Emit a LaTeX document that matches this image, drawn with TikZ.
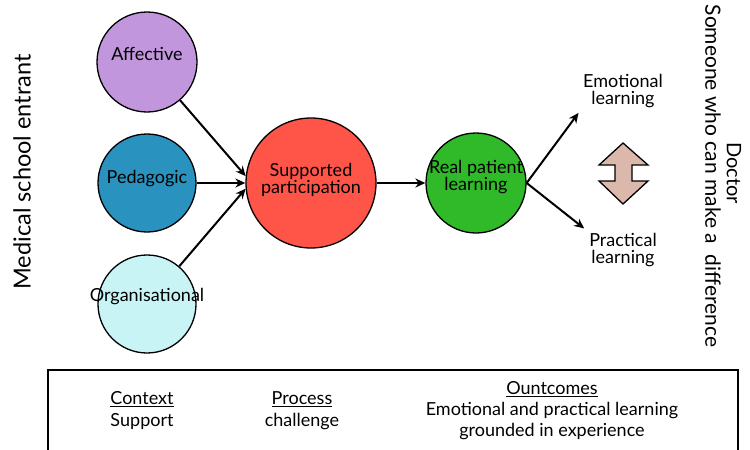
\documentclass[tikz,border=0pt]{standalone}
\usepackage{fontspec}
\setmainfont{Lato}
\usetikzlibrary{arrows.meta}

\definecolor{affcol}{RGB}{194,150,220}
\definecolor{pedcol}{RGB}{42,146,190}
\definecolor{orgcol}{RGB}{200,244,246}
\definecolor{supcol}{RGB}{255,85,72}
\definecolor{realcol}{RGB}{48,185,40}
\definecolor{dblcol}{RGB}{220,184,172}

\begin{document}
\begin{tikzpicture}[x=1pt,y=-1pt,
    every node/.style={font=\fontsize{18}{17}\selectfont},
    circ/.style={circle,draw,line width=1.3pt,inner sep=0pt,minimum size=100pt},
    txt/.style={align=center,yshift=4pt},
    flow/.style={line width=2pt,-{Stealth[length=10pt,width=9pt]}},
    side/.style={font=\fontsize{20}{22}\selectfont}]
  \useasboundingbox (0,0) rectangle (750,450);
      % the three sources
      \node[circ,fill=affcol,label={[txt,yshift=4pt]center:Affective}] (aff) at (147,62) {};
      \node[circ,fill=pedcol,minimum size=98pt,label={[txt]center:Pedagogic}] (ped) at (147,183) {};
      \node[circ,fill=orgcol,minimum size=98pt,label={[txt,yshift=3pt]center:Organisational}] (org) at (147,304) {};
      % middle
      \node[circ,fill=supcol,minimum size=130pt,label={[txt,yshift=-1pt]center:Supported\\participation}] (sup) at (311,183) {};
      \node[circ,fill=realcol,label={[txt,yshift=2pt]center:Real patient\\learning}] (real) at (476,183) {};
      % outcomes
      \node[align=center] (emo) at (623,91) {Emotional\\learning};
      \node[align=center] (prac) at (623,250) {Practical\\learning};
      \draw[flow] (aff) -- (sup.174);
      \draw[flow] (ped) -- (sup.west);
      \draw[flow] (org) -- (sup.185);
      \draw[flow] (sup) -- (real);
      \draw[flow,shorten >=2pt] (real.east) -- (emo.south west);
      \draw[flow,shorten >=2pt] (real.east) -- (prac.north west);
      % double arrow
      \draw[fill=dblcol,line width=1.3pt] (623,143) -- (648,165) -- (632,165) -- (632,181)
        -- (648,181) -- (623,204) -- (599,181) -- (615,181) -- (615,165) -- (599,165) -- cycle;
      % side labels
      \node[side,font=\fontsize{23.5}{25}\selectfont,rotate=90] (entrant) at (22,172) {Medical school entrant};
      \node[side,rotate=-90] (doctor) at (734,173) {Doctor};
      \node[side,font=\fontsize{21}{22}\selectfont,rotate=-90] (someone) at (713,176) {Someone who can make a\ \ difference};
      % box at the bottom
      \draw[line width=1.2pt] (48,452) -- (48,370) -- (738,370) -- (738,452);
      \node[align=center] (ctx) at (142,411) {\underline{Context}\\[5pt]Support};
      \node[align=center] (proc) at (302,411) {\underline{Process}\\[5pt]challenge};
      \node[align=center] (outc) at (552,411) {\underline{Ountcomes}\\[4pt]Emotional and practical learning\\[4pt]grounded in experience};
    \end{tikzpicture}
\end{document}
